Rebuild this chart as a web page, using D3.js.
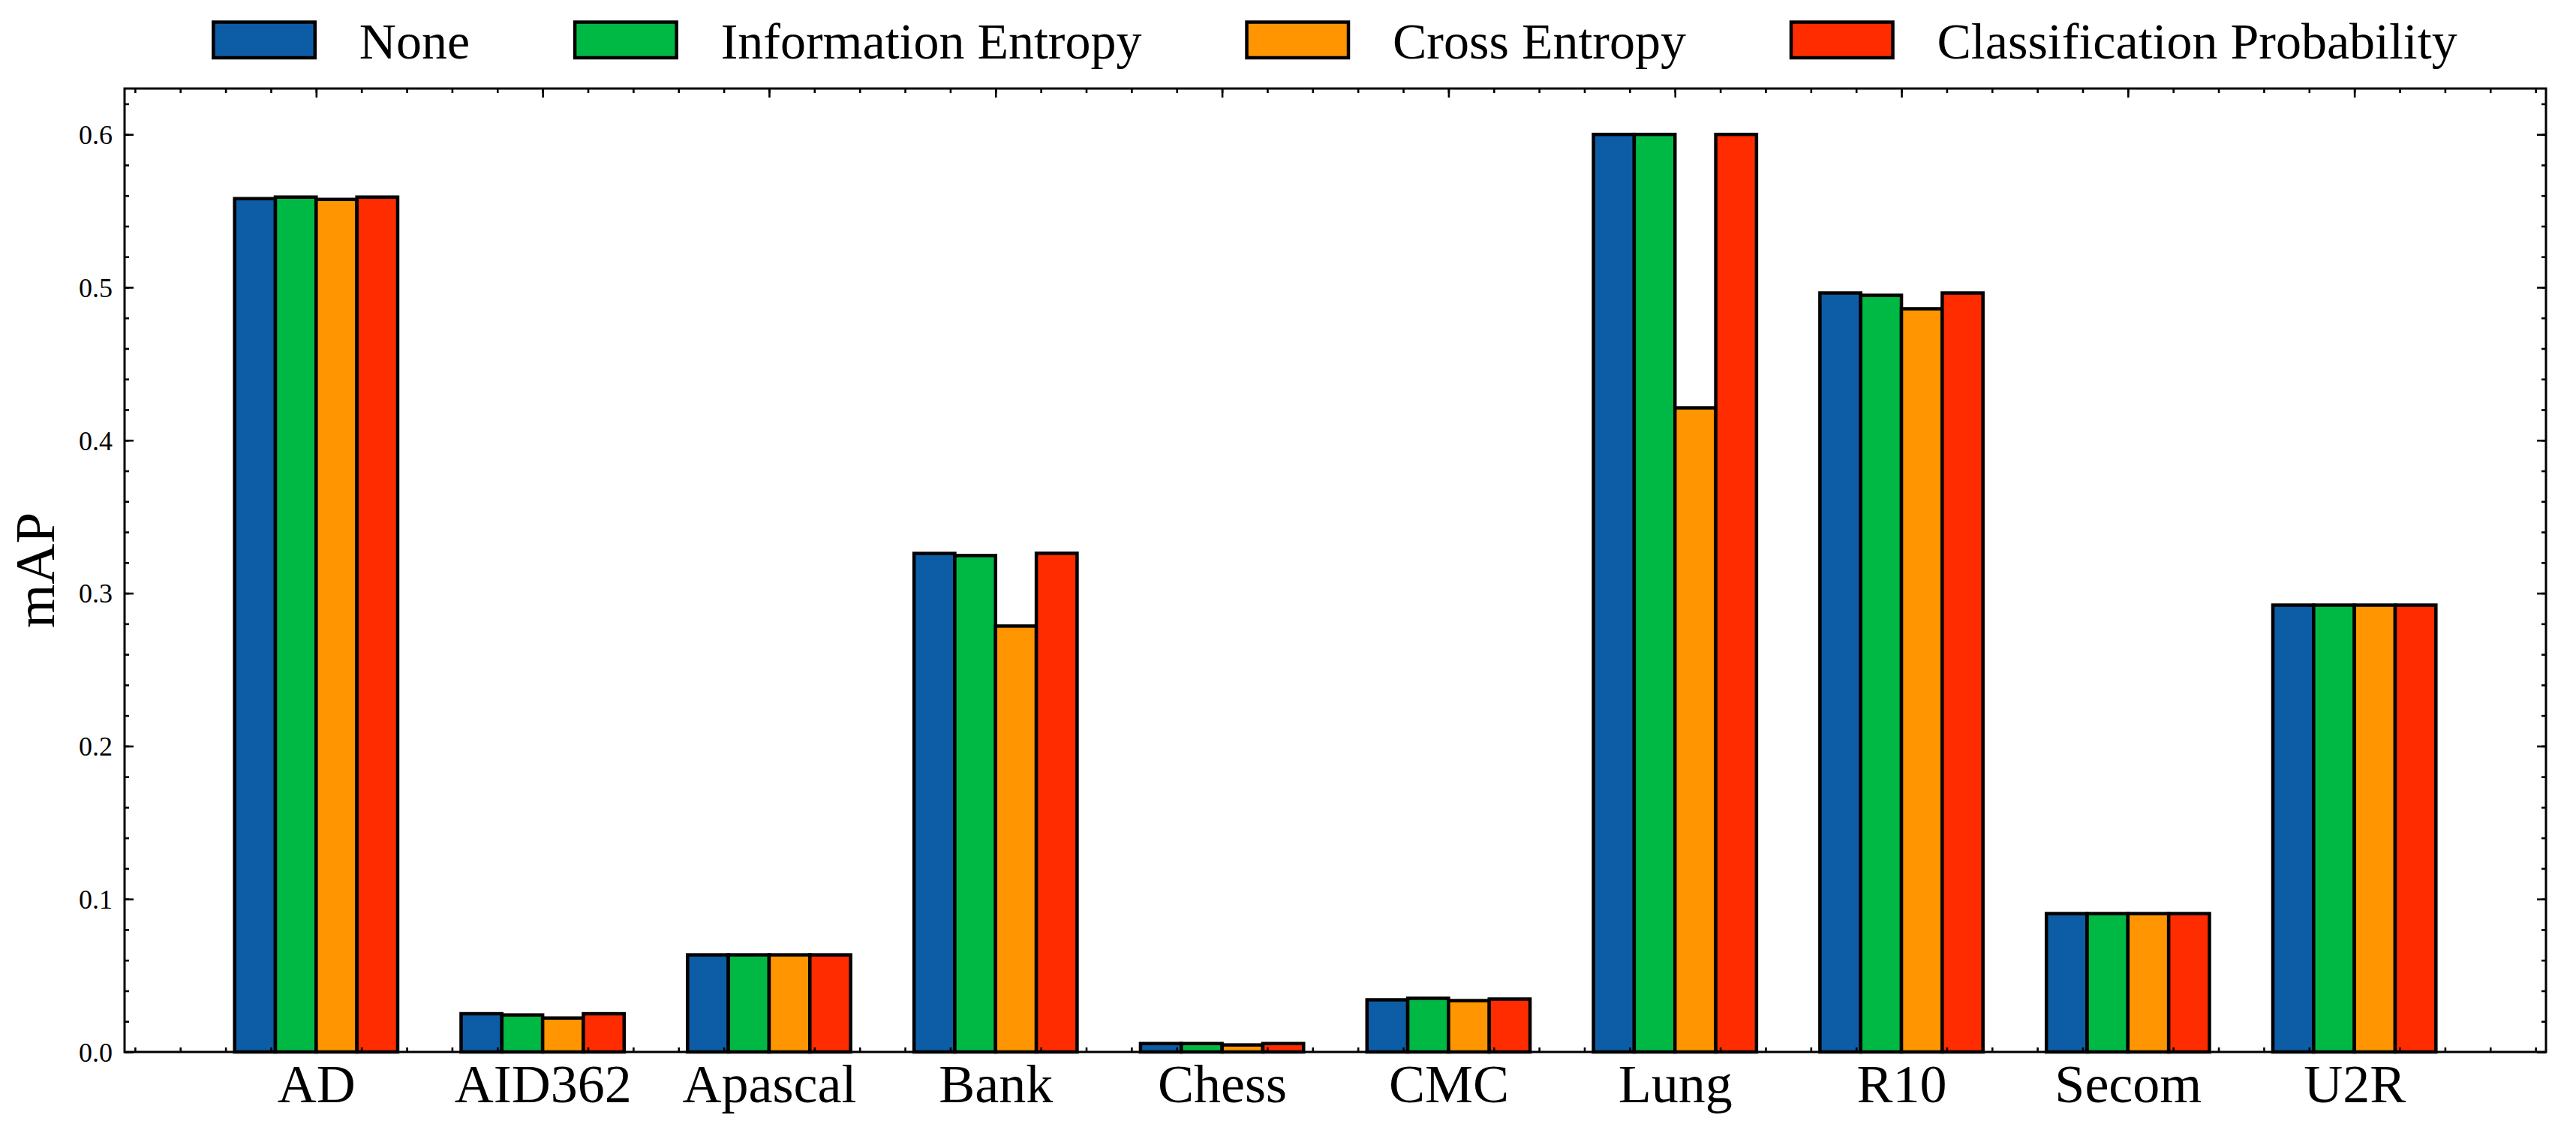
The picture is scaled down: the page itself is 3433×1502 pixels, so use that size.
<!DOCTYPE html>
<html>
<head>
<meta charset="utf-8">
<script src="https://cdn.jsdelivr.net/npm/d3@7"></script>
<style>
  html, body { margin: 0; padding: 0; background: #fff; }
  svg { display: block; }
  text { font-family: "Liberation Serif", "DejaVu Serif", serif; fill: #000; }
</style>
</head>
<body>
<svg id="chart" width="3433" height="1502"></svg>
<script>
// ---------- data ----------
const categories = ["AD", "AID362", "Apascal", "Bank", "Chess", "CMC", "Lung", "R10", "Secom", "U2R"];
const seriesNames = ["None", "Information Entropy", "Cross Entropy", "Classification Probability"];
const seriesColors = ["#0C5DA5", "#00B945", "#FF9500", "#FF2C00"];
const noneValues          = [0.558, 0.025, 0.0635, 0.326, 0.0055, 0.0341, 0.600, 0.4963, 0.0905, 0.2922];
const infoEntropyValues   = [0.559, 0.0242, 0.0635, 0.3246, 0.0055, 0.0351, 0.600, 0.4948, 0.0905, 0.2922];
const crossEntropyValues  = [0.5575, 0.0222, 0.0635, 0.2785, 0.0046, 0.0336, 0.4212, 0.4860, 0.0905, 0.2922];
const classProbValues     = [0.559, 0.025, 0.0635, 0.3261, 0.0055, 0.0346, 0.600, 0.4963, 0.0905, 0.2922];
const yTickValues = [0.0, 0.1, 0.2, 0.3, 0.4, 0.5, 0.6];
const yLabel = "mAP";

const series = [noneValues, infoEntropyValues, crossEntropyValues, classProbValues];

// ---------- layout ----------
const W = 3433, H = 1502;
const plot = { left: 166, right: 3393, top: 118, bottom: 1402 };
const barW = 0.18;
const nS = series.length;

const svg = d3.select("#chart");

const xMinData = -nS / 2 * barW, xMaxData = (categories.length - 1) + nS / 2 * barW;
const xPad = (xMaxData - xMinData) * 0.05;
const x = d3.scaleLinear().domain([xMinData - xPad, xMaxData + xPad]).range([plot.left, plot.right]);
const yMax = d3.max(series.flat()) * 1.05;
const y = d3.scaleLinear().domain([0, yMax]).range([plot.bottom, plot.top]);

// ---------- bars ----------
const barData = [];
series.forEach((vals, j) => vals.forEach((v, i) => barData.push({ i, j, v })));
svg.append("g").selectAll("rect").data(barData).join("rect")
  .attr("x", d => x(d.i + (d.j - nS / 2) * barW))
  .attr("width", d => x(barW) - x(0))
  .attr("y", d => y(d.v))
  .attr("height", d => y(0) - y(d.v))
  .attr("fill", d => seriesColors[d.j])
  .attr("stroke", "#000")
  .attr("stroke-width", 4.5);

// ---------- axes ----------
const majorLen = 12, minorLen = 6, tickW = 2.6;
const xMajor = d3.range(categories.length);
const xMinor = d3.range(-4, 50).map(k => k / 5).filter(v => v >= x.domain()[0] && v <= x.domain()[1]);
const yMinor = d3.range(0, 32).map(k => k / 50).filter(v => v <= yMax);

function styleTicks(g) {
  g.select(".domain").remove();
  g.selectAll(".tick line").attr("stroke", "#000").attr("stroke-width", tickW);
}

// bottom
const gxb = svg.append("g").attr("transform", `translate(0,${plot.bottom})`)
  .call(d3.axisBottom(x).tickValues(xMinor).tickSize(-minorLen).tickFormat(""));
styleTicks(gxb);
const gxbM = svg.append("g").attr("transform", `translate(0,${plot.bottom})`)
  .call(d3.axisBottom(x).tickValues(xMajor).tickSize(-majorLen).tickFormat(i => categories[i]));
styleTicks(gxbM);
gxbM.selectAll(".tick text").attr("y", 67).attr("dy", 0)
  .style("font-size", "72px").style("font-family", '"Liberation Serif", serif');

// top
const gxt = svg.append("g").attr("transform", `translate(0,${plot.top})`)
  .call(d3.axisTop(x).tickValues(xMinor).tickSize(-minorLen).tickFormat(""));
styleTicks(gxt);
const gxtM = svg.append("g").attr("transform", `translate(0,${plot.top})`)
  .call(d3.axisTop(x).tickValues(xMajor).tickSize(-majorLen).tickFormat(""));
styleTicks(gxtM);

// left
const gyl = svg.append("g").attr("transform", `translate(${plot.left},0)`)
  .call(d3.axisLeft(y).tickValues(yMinor).tickSize(-minorLen).tickFormat(""));
styleTicks(gyl);
const gylM = svg.append("g").attr("transform", `translate(${plot.left},0)`)
  .call(d3.axisLeft(y).tickValues(yTickValues).tickSize(-majorLen).tickFormat(d3.format(".1f")));
styleTicks(gylM);
gylM.selectAll(".tick text").attr("x", -16).attr("dy", "0.34em")
  .style("font-size", "36px").style("font-family", '"Liberation Serif", serif');

// right
const gyr = svg.append("g").attr("transform", `translate(${plot.right},0)`)
  .call(d3.axisRight(y).tickValues(yMinor).tickSize(-minorLen).tickFormat(""));
styleTicks(gyr);
const gyrM = svg.append("g").attr("transform", `translate(${plot.right},0)`)
  .call(d3.axisRight(y).tickValues(yTickValues).tickSize(-majorLen).tickFormat(""));
styleTicks(gyrM);

// spines
svg.append("rect")
  .attr("x", plot.left).attr("y", plot.top)
  .attr("width", plot.right - plot.left).attr("height", plot.bottom - plot.top)
  .attr("fill", "none").attr("stroke", "#000").attr("stroke-width", 3);

// y label
svg.append("text")
  .attr("transform", `translate(72,${(plot.top + plot.bottom) / 2}) rotate(-90)`)
  .attr("text-anchor", "middle")
  .style("font-size", "75px")
  .text(yLabel);

// ---------- legend ----------
const boxW = 135.5, boxH = 47.5, textGap = 59, colGap = 140;
const legend = svg.append("g");
const items = legend.selectAll("g").data(seriesNames).join("g");
items.append("rect")
  .attr("width", boxW).attr("height", boxH)
  .attr("y", 29.5)
  .attr("fill", (d, j) => seriesColors[j])
  .attr("stroke", "#000").attr("stroke-width", 4.5);
items.append("text")
  .attr("y", 78)
  .attr("x", boxW + textGap)
  .style("font-size", "68px")
  .text(d => d);
const widths = [];
items.each(function () { widths.push(d3.select(this).select("text").node().getComputedTextLength()); });
const itemW = widths.map(w => boxW + textGap + w);
const total = d3.sum(itemW) + colGap * (itemW.length - 1);
let cx = (plot.left + plot.right) / 2 - total / 2;
items.attr("transform", (d, j) => {
  const t = `translate(${cx},0)`;
  cx += itemW[j] + colGap;
  return t;
});
</script>
</body>
</html>
